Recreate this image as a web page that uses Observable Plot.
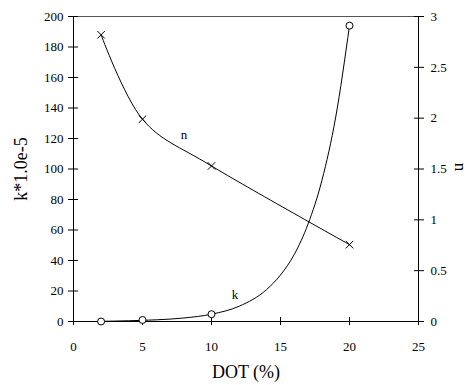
<!DOCTYPE html>
<html><head><meta charset="utf-8">
<script src="https://cdn.jsdelivr.net/npm/d3@7"></script>
<script src="https://cdn.jsdelivr.net/npm/@observablehq/plot@0.6"></script>
<style>html,body{margin:0;padding:0;background:#fff} #chart svg{display:block}</style>
</head><body><div id="chart"></div>
<script>
// measured points
const dotPct = [2, 5, 10, 20];
const kValues = [0, 1, 4.8, 194];
const nValues = [2.82, 1.99, 1.53, 0.756];
// fitted k trend curve
const kCurveDot = [2, 4, 6, 8, 10, 12, 14, 15, 16, 17, 18, 19, 20];
const kCurveValues = [0.1, 0.5, 1.1, 2.3, 4.8, 10, 21, 30.5, 44, 64, 92.5, 134, 194];
// ticks
const xTicks = [0, 5, 10, 15, 20, 25];
const kTicks = [0, 20, 40, 60, 80, 100, 120, 140, 160, 180, 200];
const nTicks = [0, 0.5, 1, 1.5, 2, 2.5, 3];
const nTickLabels = ["0", "0.5", "1", "1.5", "2", "2.5", "3"];
// curve labels
const curveLabels = ["n", "k"];
const curveLabelDot = [8.0, 11.7];
const curveLabelK = [122.4, 17.7];

const xMax = 25, kMax = 200, nMax = 3;
const toK = v => v * kMax / nMax;

const kPts = dotPct.map((x, i) => ({x, y: kValues[i]}));
const nPts = dotPct.map((x, i) => ({x, y: toK(nValues[i])}));
const kCurve = kCurveDot.map((x, i) => ({x, y: kCurveValues[i]}));
const labels = curveLabels.map((t, i) => ({t, x: curveLabelDot[i], y: curveLabelK[i]}));
const nLabelMap = new Map(nTicks.map((v, i) => [toK(v), nTickLabels[i]]));

const chart = Plot.plot({
  width: 470, height: 385,
  marginLeft: 73, marginRight: 52, marginTop: 16, marginBottom: 64,
  style: {fontFamily: "'Liberation Serif','Times New Roman',serif", fontSize: "13px", color: "#000", background: "#fff"},
  x: {domain: [0, xMax], axis: null},
  y: {domain: [0, kMax], axis: null},
  marks: [
    Plot.ruleY([kMax], {stroke: "#555"}),
    Plot.ruleX([0, xMax], {stroke: "#000"}),
    Plot.ruleY([0], {stroke: "#000"}),
    // x axis ticks (crossing) and labels
    Plot.axisX(xTicks, {tickSize: 8, dy: -4, fill: "none", label: null, stroke: "#000"}),
    Plot.axisX(xTicks, {tickSize: 0, tickPadding: 20, label: null, fill: "#000"}),
    // left axis
    Plot.axisY(kTicks, {anchor: "left", tickSize: 10, dx: 5, fill: "none", label: null, stroke: "#000"}),
    Plot.axisY(kTicks, {anchor: "left", tickSize: 0, tickPadding: 10, label: null, fill: "#000"}),
    // right axis (n)
    Plot.axisY(nTicks.map(toK), {anchor: "right", tickSize: 10, dx: -5, fill: "none", label: null, stroke: "#000"}),
    Plot.axisY(nTicks.map(toK), {anchor: "right", tickSize: 0, tickPadding: 12, label: null, fill: "#000", tickFormat: d => nLabelMap.get(d)}),
    // curves
    Plot.line(kCurve, {x: "x", y: "y", curve: "monotone-x", stroke: "#000", strokeWidth: 1}),
    Plot.line(nPts, {x: "x", y: "y", curve: "cardinal", tension: 0, stroke: "#000", strokeWidth: 1}),
    Plot.dot(kPts, {x: "x", y: "y", r: 3.5, fill: "#fff", stroke: "#000", strokeWidth: 1}),
    Plot.dot(nPts, {x: "x", y: "y", r: 3.5, symbol: "times", stroke: "#000", strokeWidth: 1}),
    Plot.text(labels, {x: "x", y: "y", text: "t", fontSize: 13, fill: "#000"}),
    // axis titles
    Plot.text(["k*1.0e-5"], {frameAnchor: "left", dx: -52, rotate: -90, textAnchor: "middle", lineAnchor: "middle", fontSize: 18, letterSpacing: "1.6px", fill: "#000"}),
    Plot.text(["n"], {frameAnchor: "right", dx: 42, dy: -2, rotate: 90, textAnchor: "middle", lineAnchor: "middle", fontSize: 17, fill: "#000"}),
    Plot.text(["DOT (%)"], {frameAnchor: "bottom", dy: 51, textAnchor: "middle", lineAnchor: "middle", fontSize: 18, fill: "#000"})
  ]
});
document.getElementById("chart").appendChild(chart);
</script>
</body></html>
